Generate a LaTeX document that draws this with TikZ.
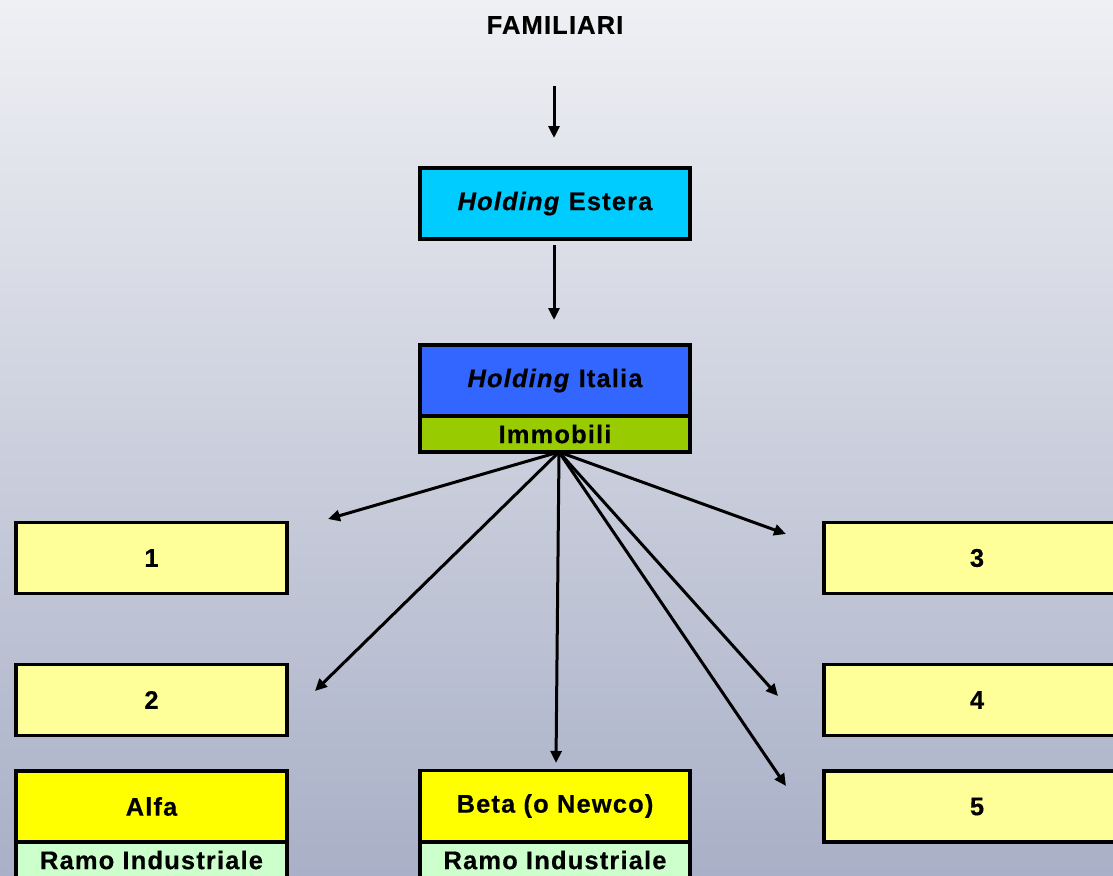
\documentclass[tikz,border=0pt]{standalone}
\usepackage{fontspec}
\setmainfont{Liberation Sans}[LetterSpace=4.5, FakeBold=0.4]
\usetikzlibrary{arrows.meta}
\definecolor{bgtop}{HTML}{EFF0F4}
\definecolor{bgbot}{HTML}{A9B0C7}
\definecolor{cyanbox}{HTML}{00CCFF}
\definecolor{bluebox}{HTML}{3366FF}
\definecolor{greenbox}{HTML}{99CC00}
\definecolor{paleyellow}{HTML}{FFFF99}
\definecolor{brightyellow}{HTML}{FFFF00}
\definecolor{palegreen}{HTML}{CCFFCC}
\begin{document}
\begin{tikzpicture}[x=1pt,y=-1pt,
  every node/.style={font=\fontsize{25.5}{30}\selectfont\bfseries, inner sep=0pt},
  box/.style={draw=black, line width=3.3pt, rectangle, minimum width=270pt, minimum height=71pt},
  subbox/.style={draw=black, line width=3.3pt, rectangle, minimum width=270pt, minimum height=36pt},
  link/.style={line width=3pt, -{Triangle[length=12pt,width=11pt]}}]
  \useasboundingbox (0,0) rectangle (1113,875);
  \clip (0,0) rectangle (1113,875);
  \shade[top color=bgtop, bottom color=bgbot] (0,0) rectangle (1113,875);

  % owners and holding chain
  \node (fam) at (555,25) {FAMILIARI};
  \coordinate (famarrow) at (554,86);
  \node[box, fill=cyanbox] (estera) at (555,203.5) {\textit{Holding} Estera};
  \node[box, fill=bluebox] (italia) at (555,380.5) {\textit{Holding} Italia};
  \node[subbox, fill=greenbox] (imm) at (555,434) {Immobili};

  % subsidiaries
  \node[box, fill=paleyellow, minimum width=271pt] (s1) at (151.5,558) {1};
  \node[box, fill=paleyellow, minimum width=271pt] (s2) at (151.5,700) {2};
  \node[box, fill=brightyellow, minimum width=271pt] (alfa) at (151.5,806.5) {Alfa};
  \node[subbox, fill=palegreen, minimum width=271pt] (alfar) at (151.5,860) {Ramo Industriale};
  \node[box, fill=brightyellow] (beta) at (555,806) {Beta (o Newco)};
  \node[subbox, fill=palegreen] (betar) at (555,860) {Ramo Industriale};
  \node[box, fill=paleyellow, minimum width=306pt] (s3) at (977,558) {3};
  \node[box, fill=paleyellow, minimum width=306pt] (s4) at (977,700) {4};
  \node[box, fill=paleyellow, minimum width=306pt] (s5) at (977,806.5) {5};

  % arrow end points
  \coordinate (hub) at (559,452);
  \coordinate (e1) at (328,519);
  \coordinate (e2) at (315,691);
  \coordinate (eb) at (556,763);
  \coordinate (e3) at (786,534);
  \coordinate (e4) at (778,696);
  \coordinate (e5) at (786,786);
  \coordinate (famend) at (554,138);
  \coordinate (estout) at (554,245);
  \coordinate (itain) at (554,320);

  \draw[link] (famarrow) -- (famend);
  \draw[link] (estout) -- (itain);
  \foreach \t in {e1,e2,eb,e3,e4,e5}
    \draw[link] (hub) -- (\t);
\end{tikzpicture}
\end{document}
